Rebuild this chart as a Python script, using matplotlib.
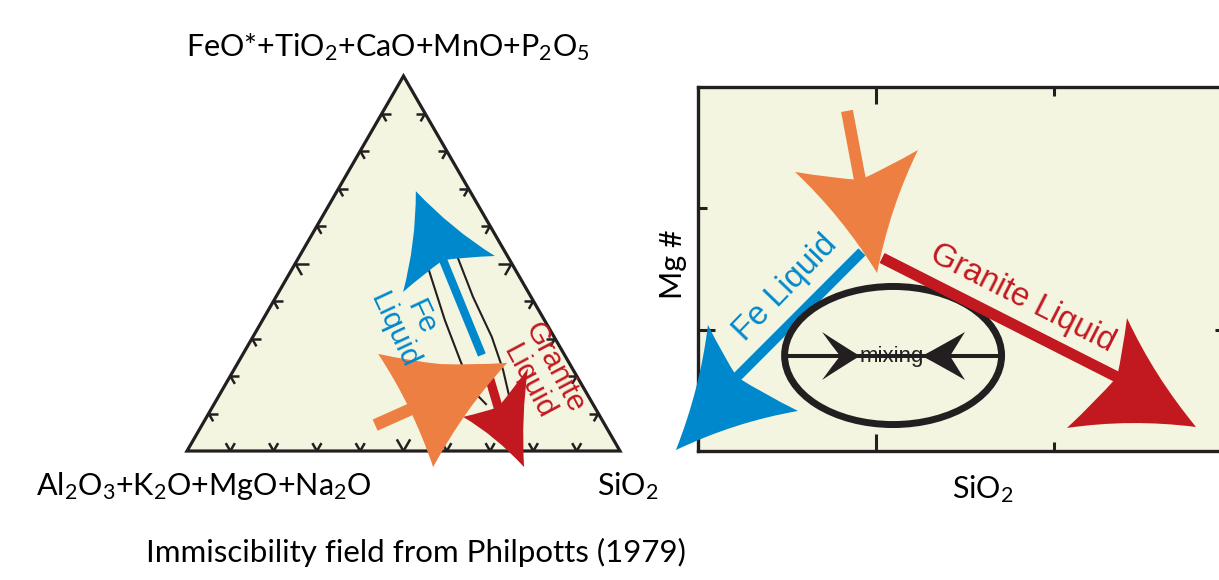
import numpy as np
import matplotlib
matplotlib.use("Agg")
import matplotlib.pyplot as plt
from matplotlib.path import Path
from matplotlib.patches import PathPatch, Polygon, Ellipse

plt.rcParams['mathtext.fontset'] = 'custom'
plt.rcParams['mathtext.rm'] = 'Lato'
plt.rcParams['mathtext.it'] = 'Lato:italic'
plt.rcParams['mathtext.bf'] = 'Lato:bold'

# ======================= DATA =======================
# --- Ternary diagram (fractions): SiO2 (right apex), FeO*+TiO2+CaO+MnO+P2O5 (top apex)
tick_fracs = [0.1, 0.2, 0.3, 0.4, 0.5, 0.6, 0.7, 0.8, 0.9]
major_frac = 0.5

# immiscibility field boundaries (Philpotts 1979)
field_a_sio2 = [0.313, 0.421, 0.509, 0.577, 0.628]
field_a_feo = [0.488, 0.349, 0.243, 0.163, 0.125]
field_b_sio2 = [0.368, 0.455, 0.552, 0.622, 0.669]
field_b_feo = [0.515, 0.411, 0.304, 0.216, 0.149]

# arrow points: tail, neck, tip, barb 1, barb 2, notch
tern_fe_sio2 = [0.553, 0.337, 0.182, 0.287, 0.451, 0.337]
tern_fe_feo = [0.256, 0.509, 0.693, 0.424, 0.520, 0.509]
tern_mafic_sio2 = [0.400, 0.489, 0.590, 0.312, 0.622, 0.468]
tern_mafic_feo = [0.069, 0.131, -0.043, 0.259, 0.235, 0.232]
tern_gran_sio2 = [0.585, 0.660, 0.800, 0.592, 0.677, 0.660]
tern_gran_feo = [0.216, 0.117, -0.043, 0.091, 0.221, 0.117]

tern_fe_label = (0.339, 0.340)
tern_gran_label = (0.717, 0.204)

# --- Mg# vs SiO2 sketch (arbitrary units 0..3)
sio2_major, sio2_minor = [1], [2]
mg_major, mg_minor = [1], [2]

xy_mafic_x = [0.837, 0.910, 1.006, 0.545, 1.236, 0.910]
xy_mafic_y = [2.803, 2.234, 1.467, 2.300, 2.481, 2.234]
xy_fe_x = [0.921, 0.219, -0.124, 0.056, 0.562, 0.219]
xy_fe_y = [1.641, 0.610, 0.008, 1.039, 0.330, 0.610]
xy_gran_x = [1.034, 2.354, 2.798, 2.410, 2.073, 2.354]
xy_gran_y = [1.591, 0.610, 0.198, 1.096, 0.190, 0.610]

mix_center = (1.096, 0.787)
mix_width, mix_height = 1.219, 1.138
mix_line_x = [0.483, 1.697]
mix_line_y = [0.783, 0.783]
# heads: tip, barb 1, barb 2, notch
mix_left_x = [0.910, 0.697, 0.697, 0.798]
mix_left_y = [0.783, 0.981, 0.585, 0.783]
mix_right_x = [1.258, 1.500, 1.500, 1.416]
mix_right_y = [0.783, 0.981, 0.585, 0.783]

xy_fe_label = (0.489, 1.344)
xy_gran_label = (1.826, 1.261)
xy_mix_label = (1.090, 0.775)

# ======================= STYLE =======================
CREAM = '#F4F5E0'
BLUE = '#0088CC'
ORANGE = '#EE7F43'
RED = '#C1191F'
BLACK = '#231F20'
LABEL_FONT = 'Lato'
ARROW_FONT = 'Liberation Sans'
S3 = np.sqrt(3) / 2


def tern(sio2, feo):
    s = np.asarray(sio2, float)
    f = np.asarray(feo, float)
    return s + f / 2, f * S3


def add_head(ax, tip, b1, b2, notch, color, z, side_k=0.22, back_k=0.12):
    c = (tip + b1 + b2 + notch) / 4

    def ctrl(a, b, k):
        m = (a + b) / 2
        return m + k * (c - m)

    verts = [tip, ctrl(tip, b1, side_k), b1, ctrl(b1, notch, back_k), notch,
             ctrl(notch, b2, back_k), b2, ctrl(b2, tip, side_k), tip, tip]
    codes = [Path.MOVETO] + [Path.CURVE3] * 8 + [Path.CLOSEPOLY]
    vd = ax.transData.inverted().transform(np.array(verts))
    ax.add_patch(PathPatch(Path(vd, codes), facecolor=color, edgecolor='none',
                           zorder=z, clip_on=False))


def draw_arrow(ax, xs, ys, color, shaft_pt, z, side_k=0.22, back_k=0.12, ext_px=8):
    P = ax.transData.transform(np.column_stack([xs, ys]))
    tail, neck, tip, b1, b2, notch = P
    d = neck - tail
    d = d / np.hypot(*d)
    end = neck + d * ext_px
    sh = ax.transData.inverted().transform(np.array([tail, end]))
    ax.plot(sh[:, 0], sh[:, 1], color=color, lw=shaft_pt, solid_capstyle='butt',
            zorder=z, clip_on=False)
    add_head(ax, tip, b1, b2, notch, color, z, side_k, back_k)


fig = plt.figure(figsize=(12.19, 5.80), dpi=100)

# ---------------- Ternary panel ----------------
ax1 = fig.add_axes([0, 0, 660 / 1219, 1])
ax1.set_xlim(-187 / 433, 473 / 433)
ax1.set_ylim(-129 / 433, 451 / 433)
ax1.axis('off')

tri = Polygon([[0, 0], [1, 0], [0.5, S3]], closed=True, facecolor=CREAM,
              edgecolor=BLACK, lw=2.3, joinstyle='miter', zorder=1)
ax1.add_patch(tri)

for f in tick_fracs:
    L = 0.031 if abs(f - major_frac) < 1e-9 else 0.021
    specs = [((f, 0.0), [(0.5, S3), (-0.5, S3)]),
             ((0.5 * f, S3 * f), [(1.0, 0.0), (0.5, -S3)]),
             ((1 - 0.5 * f, S3 * f), [(-1.0, 0.0), (-0.5, -S3)])]
    for (px, py), arms in specs:
        for ax_, ay_ in arms:
            ax1.plot([px, px + L * ax_], [py, py + L * ay_], color=BLACK, lw=1.8,
                     solid_capstyle='butt', zorder=2)

for s, fe in ((field_a_sio2, field_a_feo), (field_b_sio2, field_b_feo)):
    x, y = tern(s, fe)
    ax1.plot(x, y, color=BLACK, lw=1.5, zorder=2)

x, y = tern(tern_fe_sio2, tern_fe_feo)
draw_arrow(ax1, x, y, BLUE, 6.0, 3)
x, y = tern(tern_gran_sio2, tern_gran_feo)
draw_arrow(ax1, x, y, RED, 6.6, 4)
x, y = tern(tern_mafic_sio2, tern_mafic_feo)
draw_arrow(ax1, x, y, ORANGE, 8.8, 5, side_k=0.2, back_k=0.08)

lx, ly = tern(*tern_fe_label)
ax1.text(lx, ly, 'Fe\nLiquid', color=BLUE, fontsize=21.5, family=ARROW_FONT,
         rotation=-65, rotation_mode='anchor', ha='center', va='center',
         multialignment='center', linespacing=1.1, zorder=6)
lx, ly = tern(*tern_gran_label)
ax1.text(lx, ly, 'Granite\nLiquid', color=RED, fontsize=21.5, family=ARROW_FONT,
         rotation=-62, rotation_mode='anchor', ha='center', va='center',
         multialignment='center', linespacing=1.1, zorder=6)

ax1.annotate(r'FeO*+TiO$_2$+CaO+MnO+P$_2$O$_5$', xy=(0.5, S3), xytext=(-11.5, 14.4),
             textcoords='offset points', ha='center', va='baseline', fontsize=22,
             family=LABEL_FONT)
ax1.annotate(r'Al$_2$O$_3$+K$_2$O+MgO+Na$_2$O', xy=(0, 0), xytext=(12.2, -31.7),
             textcoords='offset points', ha='center', va='baseline', fontsize=22,
             family=LABEL_FONT)
ax1.annotate(r'SiO$_2$', xy=(1, 0), xytext=(5.8, -31.7),
             textcoords='offset points', ha='center', va='baseline', fontsize=22,
             family=LABEL_FONT)
fig.text(415.5 / 1219, 18 / 580, 'Immiscibility field from Philpotts (1979)',
         ha='center', va='baseline', fontsize=22.5, family=LABEL_FONT)

# ---------------- Mg# vs SiO2 panel ----------------
ax2 = fig.add_axes([698 / 1219, 129 / 580, 534 / 1219, 364 / 580])
ax2.set_facecolor(CREAM)
ax2.set_xlim(0, 3)
ax2.set_ylim(0, 3)
ax2.set_xticks(sio2_major)
ax2.set_xticks(sio2_minor, minor=True)
ax2.set_yticks(mg_major)
ax2.set_yticks(mg_minor, minor=True)
ax2.tick_params(which='both', direction='in', top=True, right=True,
                labelbottom=False, labelleft=False, color=BLACK, width=2.2)
ax2.tick_params(which='major', length=12.5)
ax2.tick_params(which='minor', length=6.5)
for sp in ax2.spines.values():
    sp.set_linewidth(2.4)
    sp.set_color(BLACK)

draw_arrow(ax2, xy_fe_x, xy_fe_y, BLUE, 7.2, 3)
ax2.add_patch(Ellipse(mix_center, mix_width, mix_height, facecolor='none',
                      edgecolor=BLACK, lw=5.0, zorder=4))
ax2.plot(mix_line_x, mix_line_y, color=BLACK, lw=2.9, solid_capstyle='butt', zorder=4)
for hx, hy in ((mix_left_x, mix_left_y), (mix_right_x, mix_right_y)):
    P = ax2.transData.transform(np.column_stack([hx, hy]))
    add_head(ax2, P[0], P[1], P[2], P[3], BLACK, 4.2, side_k=0.04, back_k=0.12)
draw_arrow(ax2, xy_gran_x, xy_gran_y, RED, 8.0, 5)
draw_arrow(ax2, xy_mafic_x, xy_mafic_y, ORANGE, 8.6, 6)

ax2.text(*xy_fe_label, 'Fe Liquid', color=BLUE, fontsize=23.5, family=ARROW_FONT,
         rotation=46, rotation_mode='anchor', ha='center', va='center', zorder=7)
ax2.text(*xy_gran_label, 'Granite Liquid', color=RED, fontsize=23.5, family=ARROW_FONT,
         rotation=-27, rotation_mode='anchor', ha='center', va='center', zorder=7)
ax2.text(*xy_mix_label, 'mixing', color=BLACK, fontsize=16, family=ARROW_FONT,
         ha='center', va='center', zorder=7)

ax2.text(-0.047, 0.514, 'Mg #', rotation=90, transform=ax2.transAxes, ha='center',
         va='center', fontsize=22, family=LABEL_FONT)
ax2.text(0.534, -0.129, r'SiO$_2$', transform=ax2.transAxes, ha='center',
         va='baseline', fontsize=22, family=LABEL_FONT)

fig.savefig('out.png', dpi=100)
